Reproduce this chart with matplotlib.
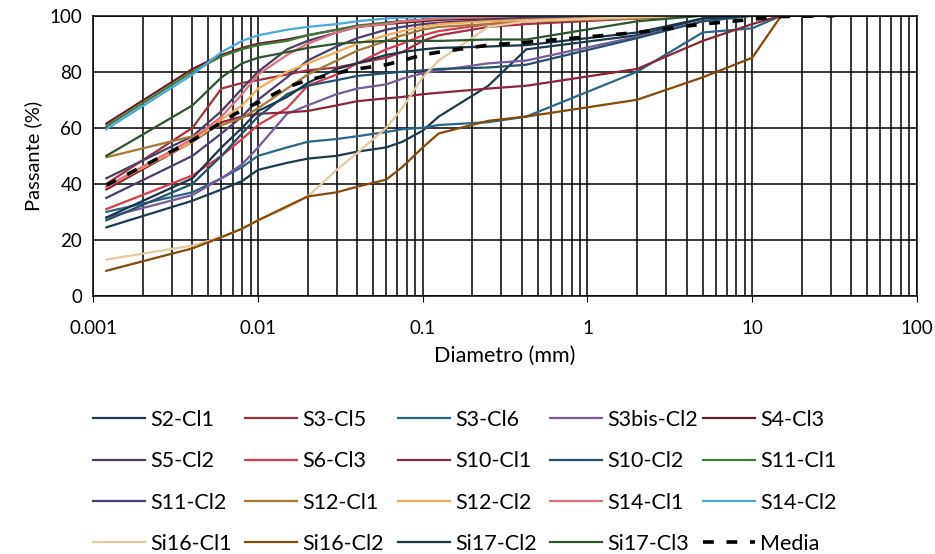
import matplotlib.pyplot as plt
from matplotlib.ticker import FixedLocator, NullFormatter

plt.rcParams['font.family'] = ['Lato', 'DejaVu Sans']

# diametri dei setacci / sedimentazione (mm)
diam = [0.0012, 0.004, 0.006, 0.008, 0.01, 0.015, 0.02, 0.03, 0.04, 0.06,
        0.075, 0.1, 0.125, 0.25, 0.425, 2, 5, 10, 15]
diam_media = diam + [31.5]

s2_cl1 = [24.5, 34, 38, 41, 45, 47.5, 49, 50, 51.5, 53, 55, 59, 64, 75, 88, 93, 99, 100, 100]
s3_cl5 = [40, 60, 74, 76, 77, 79, 80.5, 81.5, 83, 85, 87, 91, 93, 96, 97, 99, 100, 100, 100]
s3_cl6 = [30, 37, 42, 46, 50, 53, 55, 56, 57, 58.5, 59.5, 60, 61, 62, 64, 80, 94, 95.5, 100]
s3bis_cl2 = [28, 36, 42, 47, 53, 65, 68, 72, 74, 75.5, 77.5, 79.5, 80.5, 83, 84, 92.5, 98, 100, 100]
s4_cl3 = [61.5, 81, 86, 88.5, 90, 91.5, 93, 95, 96, 97, 97.5, 98, 98.5, 99, 99.5, 100, 100, 100, 100]
s5_cl2 = [42, 57, 66, 74, 80, 88, 91, 94, 96, 97.5, 98, 98.5, 99, 99.5, 100, 100, 100, 100, 100]
s6_cl3 = [31, 43, 50, 56, 61, 67, 75, 79, 83, 88, 90, 93, 94.5, 97, 98, 99.5, 100, 100, 100]
s10_cl1 = [38, 55, 62, 64, 65, 65.5, 66, 68, 69.5, 70.5, 71, 72, 72.5, 74, 75, 81, 91, 97, 100]
s10_cl2 = [27, 40, 50, 58, 64, 72, 75, 77, 78.5, 79.5, 80, 80.5, 81, 81.5, 82.5, 92, 98, 100, 100]
s11_cl1 = [60.5, 80, 85.5, 88, 89.5, 91, 93, 95, 96.5, 97.5, 98, 98.5, 99, 99.5, 100, 100, 100, 100, 100]
s11_cl2 = [35, 50, 58, 64, 70, 78, 84, 89, 92, 95, 96, 97, 97.5, 98.5, 99, 100, 100, 100, 100]
s12_cl1 = [49.5, 57, 61, 63.5, 67, 74, 79, 84, 87.5, 91, 93, 95, 96, 97, 98, 99, 100, 100, 100]
s12_cl2 = [39, 55, 63, 68, 74, 80, 83, 87, 90, 93, 94.5, 96, 97, 98, 98.5, 99.5, 100, 100, 100]
s14_cl1 = [39, 56, 64, 72, 79, 86, 90, 94, 96, 97, 98, 98.5, 99, 99.5, 100, 100, 100, 100, 100]
s14_cl2 = [59.5, 79, 87, 91, 93, 95, 96, 97, 98, 99, 99.3, 99.5, 99.7, 100, 100, 100, 100, 100, 100]
si16_cl1 = [13, 18, 21, 24, 27, 31.5, 35.5, 45, 51, 60, 67, 78, 84, 96, 98, 99.5, 100, 100, 100]
si16_cl2 = [9, 17, 21, 24, 27, 32, 35.5, 37, 39, 41.5, 46, 53, 58, 62.5, 64, 70, 78, 85, 100]
si17_cl2 = [28, 42, 53, 60, 66, 71, 76, 81, 83, 86, 87, 88, 88.5, 89, 89.5, 94, 99, 100, 100]
si17_cl3 = [50, 68, 78, 83, 85, 87, 88.5, 90, 90.5, 91, 91, 91, 91, 91.5, 91.5, 98, 100, 100, 100]
media = [39.5, 55.5, 62, 66.4, 69, 74.5, 77, 79.5, 81, 82.5, 84, 86, 87, 89.5, 90.5, 94, 97, 98.7, 99.7, 100]

serie = [
    ('S2-Cl1', s2_cl1, '#1b3b4f'),
    ('S3-Cl5', s3_cl5, '#a3303e'),
    ('S3-Cl6', s3_cl6, '#2b6688'),
    ('S3bis-Cl2', s3bis_cl2, '#7a5b9a'),
    ('S4-Cl3', s4_cl3, '#6a1c26'),
    ('S5-Cl2', s5_cl2, '#4d3d60'),
    ('S6-Cl3', s6_cl3, '#d83c4c'),
    ('S10-Cl1', s10_cl1, '#8a2637'),
    ('S10-Cl2', s10_cl2, '#24506d'),
    ('S11-Cl1', s11_cl1, '#3e7a3a'),
    ('S11-Cl2', s11_cl2, '#4e3c6e'),
    ('S12-Cl1', s12_cl1, '#a57838'),
    ('S12-Cl2', s12_cl2, '#f8a85a'),
    ('S14-Cl1', s14_cl1, '#e0707c'),
    ('S14-Cl2', s14_cl2, '#4ba7dc'),
    ('Si16-Cl1', si16_cl1, '#e4c89e'),
    ('Si16-Cl2', si16_cl2, '#84490b'),
    ('Si17-Cl2', si17_cl2, '#1a3547'),
    ('Si17-Cl3', si17_cl3, '#2c552b'),
]

fig = plt.figure(figsize=(9.35, 5.54), dpi=100)
ax = fig.add_axes([0.0998, 0.4657, 0.8809, 0.506])

linee = []
for nome, y, col in serie:
    l, = ax.plot(diam, y, color=col, lw=1.6, label=nome)
    linee.append(l)
l, = ax.plot(diam_media, media, color='black', lw=2.6, ls=(0, (3, 3.5)), label='Media')
linee.append(l)

ax.set_xscale('log')
ax.set_xlim(0.001, 100)
ax.set_ylim(0, 100)
ax.set_yticks([0, 20, 40, 60, 80, 100])
ax.set_xticks([0.001, 0.01, 0.1, 1, 10, 100])
ax.set_xticklabels(['0.001', '0.01', '0.1', '1', '10', '100'])
ax.xaxis.set_minor_locator(FixedLocator(
    [m * 10.0 ** e for e in range(-3, 2) for m in range(2, 10)]))
ax.xaxis.set_minor_formatter(NullFormatter())
ax.grid(True, which='both', color='black', lw=1.1)
ax.set_axisbelow(True)
ax.tick_params(axis='x', which='major', length=4, pad=13, labelsize=13.5)
ax.tick_params(axis='x', which='minor', length=0)
ax.tick_params(axis='y', length=0, pad=8, labelsize=13.5)
for sp in ax.spines.values():
    sp.set_color('black')
    sp.set_linewidth(1.1)

ax.set_xlabel('Diametro (mm)', fontsize=15.5, labelpad=7)
ax.set_ylabel('Passante (%)', fontsize=14.5, labelpad=5)

# legenda: 5 colonne di larghezza fissa
col_x = [93, 245, 398, 550, 703]
for j, x0 in enumerate(col_x):
    leg = fig.legend(handles=linee[j::5], loc='upper left',
                     bbox_to_anchor=(x0 / 935, 1 - 410 / 554),
                     frameon=False, fontsize=15.5, handlelength=2.4,
                     handletextpad=0.25, labelspacing=0.99,
                     borderpad=0, borderaxespad=0)

fig.savefig('out.png', dpi=100)
